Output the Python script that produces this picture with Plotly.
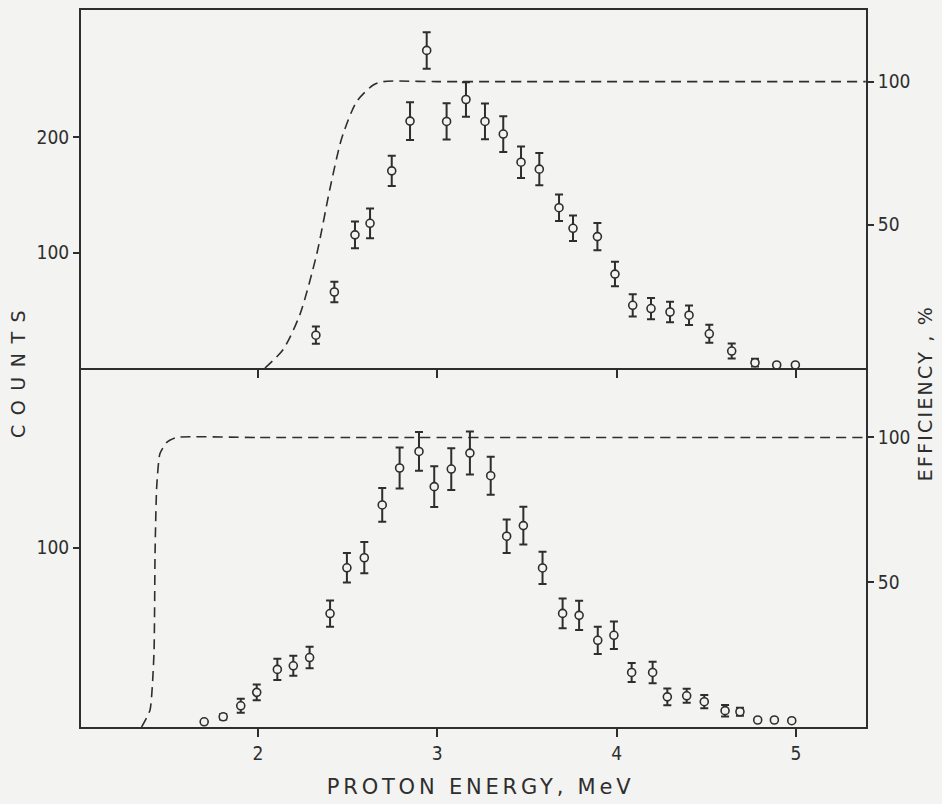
import plotly.graph_objects as go
from plotly.subplots import make_subplots

# ---------------- data ----------------
# Upper panel: counts vs proton energy
top_energy = [2.323, 2.426, 2.541, 2.625, 2.746, 2.848, 2.941, 3.052, 3.160, 3.266,
              3.368, 3.467, 3.569, 3.679, 3.757, 3.893, 3.991, 4.090, 4.192, 4.298,
              4.404, 4.517, 4.642, 4.772, 4.893, 4.997]
top_counts = [28.4, 65.8, 115.3, 125.3, 170.7, 213.8, 275.0, 213.5, 232.5, 213.5,
              202.6, 178.2, 172.2, 138.8, 121.0, 113.8, 81.3, 54.3, 51.5, 48.5,
              45.7, 29.6, 14.7, 4.6, 2.6, 2.6]
top_err = [7.5, 8.9, 11.6, 12.9, 13.2, 16.4, 15.8, 15.7, 14.9, 15.5,
           15.5, 13.6, 13.9, 11.5, 11.1, 11.8, 10.6, 9.6, 9.2, 8.9,
           8.5, 7.8, 6.5, 3.4, 0.0, 0.0]

# Upper panel: efficiency curve (%)
top_eff_energy = [2.039, 2.141, 2.234, 2.327, 2.402, 2.467, 2.550, 2.643, 2.699, 3.0, 5.39]
top_eff = [0.0, 6.5, 18.7, 39.6, 62.8, 80.2, 93.0, 98.8, 100.0, 100.0, 100.0]

# Lower panel: counts vs proton energy
bot_energy = [1.700, 1.806, 1.904, 1.993, 2.108, 2.197, 2.288, 2.402, 2.496, 2.593,
              2.693, 2.790, 2.898, 2.983, 3.078, 3.182, 3.298, 3.387, 3.480, 3.587,
              3.699, 3.791, 3.895, 3.985, 4.084, 4.201, 4.283, 4.391, 4.489, 4.605,
              4.688, 4.787, 4.880, 4.977]
bot_counts = [2.9, 5.7, 11.8, 19.3, 32.1, 34.1, 38.7, 63.2, 88.7, 94.3,
              123.7, 144.3, 153.5, 133.9, 143.7, 152.6, 140.0, 106.3, 112.2, 88.6,
              63.3, 62.2, 48.3, 51.1, 30.4, 30.4, 16.8, 17.4, 14.1, 9.1,
              8.5, 3.9, 3.9, 3.5]
bot_err = [0.0, 1.5, 3.9, 4.4, 5.9, 5.6, 6.0, 7.3, 8.2, 8.7,
           9.4, 11.4, 10.8, 11.4, 11.6, 12.0, 10.6, 9.3, 10.5, 9.0,
           8.3, 8.2, 7.6, 7.7, 5.3, 6.0, 4.7, 3.9, 3.7, 3.2,
           2.2, 0.0, 0.0, 0.0]

# Lower panel: efficiency curve (%)
bot_eff_energy = [1.351, 1.398, 1.420, 1.426, 1.435, 1.453, 1.491, 1.547, 2.0, 5.39]
bot_eff = [0.0, 5.9, 25.5, 60.0, 82.8, 94.4, 98.3, 100.0, 100.0, 100.0]

x_ticks = [2, 3, 4, 5]
top_count_ticks = [100, 200]
bot_count_ticks = [100]
eff_ticks = [50, 100]

# ---------------- style ----------------
INK = "#2e2e2e"
BG = "#f3f3f1"
TICKFONT = "DejaVu Sans Condensed, DejaVu Sans, sans-serif"
TITLEFONT = "DejaVu Sans, sans-serif"

fig = make_subplots(rows=2, cols=1, shared_xaxes=True, vertical_spacing=0,
                    specs=[[{"secondary_y": True}], [{"secondary_y": True}]])

marker = dict(symbol="circle", size=8, color=BG, line=dict(color=INK, width=1.6))


def err(vals):
    return dict(type="data", array=vals, visible=True, color=INK, thickness=2, width=4)


fig.add_trace(go.Scatter(x=top_energy, y=top_counts, mode="markers", marker=marker,
                         error_y=err(top_err), showlegend=False), row=1, col=1, secondary_y=False)
fig.add_trace(go.Scatter(x=top_eff_energy, y=top_eff, mode="lines",
                         line=dict(color=INK, width=1.6, dash="10px,6px", shape="spline", smoothing=0.7),
                         showlegend=False), row=1, col=1, secondary_y=True)
fig.add_trace(go.Scatter(x=bot_energy, y=bot_counts, mode="markers", marker=marker,
                         error_y=err(bot_err), showlegend=False), row=2, col=1, secondary_y=False)
fig.add_trace(go.Scatter(x=bot_eff_energy, y=bot_eff, mode="lines",
                         line=dict(color=INK, width=1.6, dash="10px,6px", shape="spline", smoothing=0.5),
                         showlegend=False), row=2, col=1, secondary_y=True)

split = 360 / 719
tickfont = dict(family=TICKFONT, size=19, color=INK)
common_y = dict(showgrid=False, zeroline=False, showline=True, linecolor=INK, linewidth=2,
                ticks="outside", ticklen=6, tickwidth=1.5, tickcolor=INK, tickfont=tickfont)

fig.update_layout(
    width=942, height=804,
    margin=dict(l=81, r=76, t=8, b=77),
    paper_bgcolor=BG, plot_bgcolor=BG,
    font=dict(family=TICKFONT, color=INK),
    xaxis=dict(domain=[0, 1], range=[1.013, 5.391], showgrid=False, zeroline=False, showline=True,
               mirror=True, linecolor=INK, linewidth=2, ticks="outside", ticklen=8, tickwidth=1.5,
               tickcolor=INK, tickvals=x_ticks, showticklabels=False),
    xaxis2=dict(domain=[0, 1], range=[1.013, 5.391], showgrid=False, zeroline=False, showline=True,
                linecolor=INK, linewidth=2, ticks="outside", ticklen=8, tickwidth=1.5,
                tickcolor=INK, tickvals=x_ticks, ticktext=[str(v) for v in x_ticks],
                showticklabels=True, tickfont=tickfont),
    yaxis=dict(domain=[split, 1], range=[0, 310], tickvals=top_count_ticks, **common_y),
    yaxis2=dict(domain=[split, 1], range=[0, 125], tickvals=eff_ticks, side="right", **common_y),
    yaxis3=dict(domain=[0, split], range=[0, 200], tickvals=bot_count_ticks, **common_y),
    yaxis4=dict(domain=[0, split], range=[0, 124], tickvals=eff_ticks, side="right", **common_y),
    annotations=[
        dict(text="COUNTS", xref="paper", yref="paper", x=-0.080, y=0.499, textangle=-90,
             showarrow=False, xanchor="center", yanchor="middle",
             font=dict(family=TITLEFONT, size=19, color=INK)),
        dict(text="EFFICIENCY , %", xref="paper", yref="paper", x=1.075, y=0.466, textangle=-90,
             showarrow=False, xanchor="center", yanchor="middle",
             font=dict(family=TITLEFONT, size=19, color=INK)),
        dict(text="PROTON ENERGY, MeV", xref="paper", yref="paper", x=0.509, y=-0.083,
             showarrow=False, xanchor="center", yanchor="middle",
             font=dict(family=TITLEFONT, size=21, color=INK)),
    ],
)

post = """
document.body.style.margin = '0';
document.body.style.background = '%s';
var spacing = ['9.5px', '2.2px', '3.8px'];
document.querySelectorAll('.annotation-text').forEach(function(el, i){
  el.style.letterSpacing = spacing[i] || '2px';
});
""" % BG

fig.write_html("out.html", post_script=post, config={"displayModeBar": False})
